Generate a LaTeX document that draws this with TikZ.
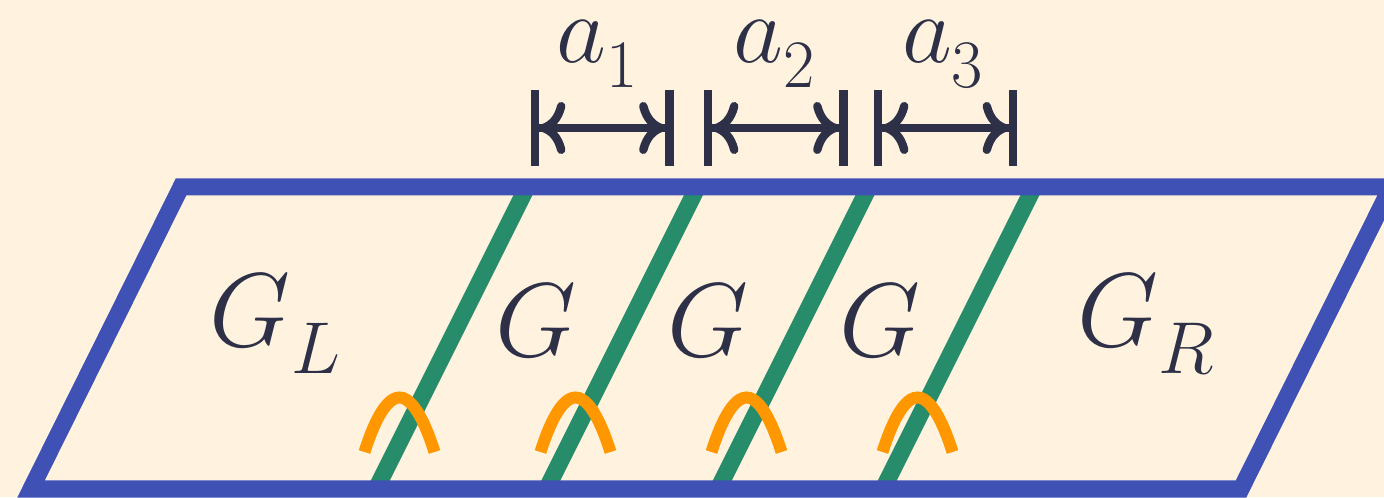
\RequirePackage{fix-cm}
\documentclass[tikz,border=0pt]{standalone}
\usepackage{tikz}
\usepackage{graphicx}
\usetikzlibrary{arrows.meta}
\definecolor{PaperBg}{HTML}{FFF3E0}
\definecolor{FrameBlue}{HTML}{3F51B5}
\definecolor{WallGreen}{HTML}{268C6A}
\definecolor{BumpOrange}{HTML}{FF9800}
\definecolor{InkDark}{HTML}{2D3047}
\newcommand{\lowsub}[1]{\raisebox{-.25em}{\scalebox{.7}{#1}}}

\begin{document}
\begin{tikzpicture}[x=.5pt,y=.5pt,font=\fontsize{52.5}{58}\selectfont,
 every node/.style={inner sep=0pt,text=InkDark},
 frame/.style={draw=FrameBlue,line width=8.5pt},
 wall/.style={draw=WallGreen,line width=8.5pt},
 bump/.style={draw=BumpOrange,line width=6pt},
 dimlbl/.style={font=\fontsize{48.5}{54}\selectfont,anchor=base},
 dim/.style={draw=InkDark,line width=4.2pt,
  {Bar[width=38pt,sep=0pt]Computer Modern Rightarrow[length=13pt,width=26pt]}-{Computer Modern Rightarrow[length=13pt,width=26pt]Bar[width=38pt,sep=0pt]}}]
 \path[fill=PaperBg,use as bounding box] (0,0) rectangle (1384,497);
 \clip (0,0) rectangle (1384,497);
 \coordinate (bl) at (31,8);
 \coordinate (tl) at (181,310);
 \coordinate (tr) at (1391,310);
 \coordinate (br) at (1241,8);
 \coordinate (t1) at (527,310);   \coordinate (b1) at (376,8);
 \coordinate (t2) at (697.5,310); \coordinate (b2) at (546.5,8);
 \coordinate (t3) at (869,310);   \coordinate (b3) at (718,8);
 \coordinate (t4) at (1034,310);  \coordinate (b4) at (883,8);
 \draw[wall] (t1)--(b1);
 \draw[wall] (t2)--(b2);
 \draw[wall] (t3)--(b3);
 \draw[wall] (t4)--(b4);
 \draw[frame] (bl)--(tl)--(tr)--(br)--cycle;
 \coordinate (k1) at (399.5,99.5);
 \coordinate (k2) at (575.5,99.5);
 \coordinate (k3) at (746.5,99.5);
 \coordinate (k4) at (917.5,99.5);
 \draw[bump] ([shift={(-35,-54.5)}]k1) parabola bend (k1) ([shift={(35,-54.5)}]k1);
 \draw[bump] ([shift={(-35,-54.5)}]k2) parabola bend (k2) ([shift={(35,-54.5)}]k2);
 \draw[bump] ([shift={(-35,-54.5)}]k3) parabola bend (k3) ([shift={(35,-54.5)}]k3);
 \draw[bump] ([shift={(-35,-54.5)}]k4) parabola bend (k4) ([shift={(35,-54.5)}]k4);
 \node[anchor=base] (gl) at (275,150) {$G$\lowsub{$L$}};
 \node[anchor=base] (g1) at (536.5,140) {$G$};
 \node[anchor=base] (g2) at (708.5,140) {$G$};
 \node[anchor=base] (g3) at (880,140) {$G$};
 \node[anchor=base] (gr) at (1146,150) {$G$\lowsub{$R$}};
 \coordinate (d1l) at (531,369);  \coordinate (d1r) at (673.5,369);
 \coordinate (d2l) at (704,369);  \coordinate (d2r) at (847.5,369);
 \coordinate (d3l) at (874,369);  \coordinate (d3r) at (1017,369);
 \draw[dim] (d1l)--(d1r);
 \draw[dim] (d2l)--(d2r);
 \draw[dim] (d3l)--(d3r);
 \node[dimlbl] (a1) at (597.5,434) {$a$\lowsub{1}};
 \node[dimlbl] (a2) at (774,434) {$a$\lowsub{2}};
 \node[dimlbl] (a3) at (942.5,434) {$a$\lowsub{3}};
\end{tikzpicture}
\end{document}
